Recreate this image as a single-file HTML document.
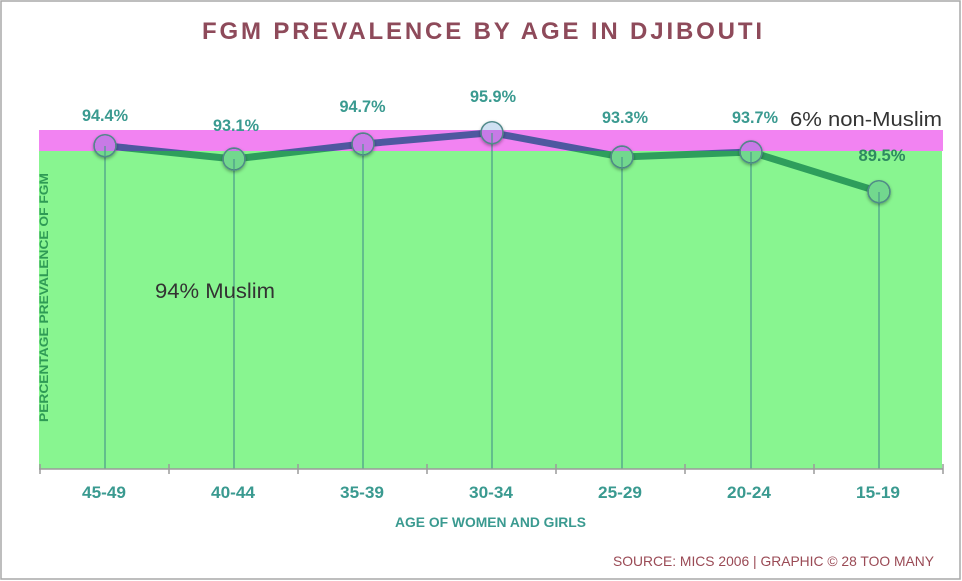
<!DOCTYPE html>
<html><head><meta charset="utf-8"><style>
html,body{margin:0;padding:0;background:#fff;}
svg{display:block;}
</style></head><body>
<svg width="962" height="581" viewBox="0 0 962 581" xmlns="http://www.w3.org/2000/svg">
<defs>
<clipPath id="above"><rect x="0" y="0" width="962" height="151"/></clipPath>
<clipPath id="below"><rect x="0" y="151" width="962" height="430"/></clipPath>
<clipPath id="ctop"><rect x="0" y="0" width="962" height="130"/></clipPath>
<clipPath id="cpink"><rect x="0" y="130" width="962" height="21"/></clipPath>
<clipPath id="cgreen"><rect x="0" y="151" width="962" height="430"/></clipPath>
<filter id="sh" x="-50%" y="-50%" width="200%" height="200%">
<feDropShadow dx="0" dy="1.5" stdDeviation="1.5" flood-color="#000" flood-opacity="0.35"/>
</filter>
<g id="m">
<circle r="11"/>
</g>
</defs>
<rect x="0" y="0" width="962" height="581" fill="#fff"/>
<rect x="1" y="1" width="959" height="578" fill="none" stroke="#a8a8a8" stroke-width="1.5"/>

<text x="482" y="39" text-anchor="middle" font-family="Liberation Sans, sans-serif" font-weight="bold" font-size="24" fill="#8e4a5a" textLength="560" lengthAdjust="spacing">FGM PREVALENCE BY AGE IN DJIBOUTI</text>

<!-- bands -->
<rect x="39" y="130" width="904" height="21" fill="#f283f2"/>
<rect x="39" y="151" width="903" height="318" fill="#88f590"/>

<!-- drop lines -->
<g stroke="#4a9a8a" stroke-width="1.2">
<line x1="105" y1="146" x2="105" y2="469"/>
<line x1="234" y1="159" x2="234" y2="469"/>
<line x1="363" y1="144" x2="363" y2="469"/>
<line x1="492" y1="133" x2="492" y2="469"/>
<line x1="622" y1="157" x2="622" y2="469"/>
<line x1="751" y1="152" x2="751" y2="469"/>
<line x1="879" y1="192" x2="879" y2="469"/>
</g>

<!-- axis -->
<line x1="39" y1="469" x2="943" y2="469" stroke="#9a9a9a" stroke-width="1.5"/>
<g stroke="#9a9a9a" stroke-width="1.5">
<line x1="40" y1="464" x2="40" y2="474"/>
<line x1="169" y1="464" x2="169" y2="474"/>
<line x1="298" y1="464" x2="298" y2="474"/>
<line x1="427" y1="464" x2="427" y2="474"/>
<line x1="556" y1="464" x2="556" y2="474"/>
<line x1="685" y1="464" x2="685" y2="474"/>
<line x1="814" y1="464" x2="814" y2="474"/>
<line x1="943" y1="464" x2="943" y2="474"/>
</g>

<!-- series line -->
<g fill="none" stroke-width="7" stroke-linejoin="round">
<polyline clip-path="url(#above)" stroke="#4e58a0" points="105,145.7 234,159 363,144 492,132.7 622,157 751,152 879,191.7"/>
<polyline clip-path="url(#below)" stroke="#2e9e5c" points="105,145.7 234,159 363,144 492,132.7 622,157 751,152 879,191.7"/>
</g>

<!-- markers: shadow + outline -->
<g fill="#000" stroke="#4f8a8a" stroke-width="1.5" filter="url(#sh)">
<circle cx="105" cy="145.7" r="11"/>
<circle cx="234" cy="159" r="11"/>
<circle cx="363" cy="144" r="11"/>
<circle cx="492" cy="132.7" r="11"/>
<circle cx="622" cy="157" r="11"/>
<circle cx="751" cy="152" r="11"/>
<circle cx="879" cy="191.7" r="11"/>
</g>
<g fill="#cfe0f2" clip-path="url(#ctop)">
<circle cx="105" cy="145.7" r="10.3"/>
<circle cx="234" cy="159" r="10.3"/>
<circle cx="363" cy="144" r="10.3"/>
<circle cx="492" cy="132.7" r="10.3"/>
<circle cx="622" cy="157" r="10.3"/>
<circle cx="751" cy="152" r="10.3"/>
<circle cx="879" cy="191.7" r="10.3"/>
</g>
<g fill="#c77ae6" clip-path="url(#cpink)">
<circle cx="105" cy="145.7" r="10.3"/>
<circle cx="234" cy="159" r="10.3"/>
<circle cx="363" cy="144" r="10.3"/>
<circle cx="492" cy="132.7" r="10.3"/>
<circle cx="622" cy="157" r="10.3"/>
<circle cx="751" cy="152" r="10.3"/>
<circle cx="879" cy="191.7" r="10.3"/>
</g>
<g fill="#72d88e" clip-path="url(#cgreen)">
<circle cx="105" cy="145.7" r="10.3"/>
<circle cx="234" cy="159" r="10.3"/>
<circle cx="363" cy="144" r="10.3"/>
<circle cx="492" cy="132.7" r="10.3"/>
<circle cx="622" cy="157" r="10.3"/>
<circle cx="751" cy="152" r="10.3"/>
<circle cx="879" cy="191.7" r="10.3"/>
</g>
<g stroke="#4a9a8a" stroke-width="1.2">
<line x1="105" y1="146" x2="105" y2="157"/>
<line x1="234" y1="159" x2="234" y2="170"/>
<line x1="363" y1="144" x2="363" y2="155"/>
<line x1="492" y1="133" x2="492" y2="144"/>
<line x1="622" y1="157" x2="622" y2="168"/>
<line x1="751" y1="152" x2="751" y2="163"/>
<line x1="879" y1="192" x2="879" y2="203"/>
</g>

<!-- data labels -->
<g font-family="Liberation Sans, sans-serif" font-weight="bold" font-size="17" fill="#3a9a90" text-anchor="middle">
<text x="105" y="121" textLength="46" lengthAdjust="spacingAndGlyphs">94.4%</text>
<text x="236" y="131" textLength="46" lengthAdjust="spacingAndGlyphs">93.1%</text>
<text x="362.5" y="112" textLength="46" lengthAdjust="spacingAndGlyphs">94.7%</text>
<text x="493" y="102" textLength="46" lengthAdjust="spacingAndGlyphs">95.9%</text>
<text x="625" y="123" textLength="46" lengthAdjust="spacingAndGlyphs">93.3%</text>
<text x="755" y="123" textLength="46" lengthAdjust="spacingAndGlyphs">93.7%</text>
<text x="882" y="161" fill="#2e8a60" textLength="47" lengthAdjust="spacingAndGlyphs">89.5%</text>
</g>

<text x="790" y="126" font-family="Liberation Sans, sans-serif" font-size="20.5" fill="#333" textLength="152" lengthAdjust="spacingAndGlyphs">6% non-Muslim</text>
<text x="155" y="298" font-family="Liberation Sans, sans-serif" font-size="21" fill="#333" textLength="120" lengthAdjust="spacingAndGlyphs">94% Muslim</text>

<!-- y axis title -->
<text transform="translate(48,297.5) rotate(-90)" text-anchor="middle" font-family="Liberation Sans, sans-serif" font-weight="bold" font-size="12" fill="#2e9a55" textLength="249" lengthAdjust="spacingAndGlyphs">PERCENTAGE PREVALENCE OF FGM</text>

<!-- x labels -->
<g font-family="Liberation Sans, sans-serif" font-weight="bold" font-size="17" fill="#3a9a90" text-anchor="middle">
<text x="104" y="498" textLength="44" lengthAdjust="spacingAndGlyphs">45-49</text>
<text x="233" y="498" textLength="44" lengthAdjust="spacingAndGlyphs">40-44</text>
<text x="362" y="498" textLength="44" lengthAdjust="spacingAndGlyphs">35-39</text>
<text x="491" y="498" textLength="44" lengthAdjust="spacingAndGlyphs">30-34</text>
<text x="620" y="498" textLength="44" lengthAdjust="spacingAndGlyphs">25-29</text>
<text x="749" y="498" textLength="44" lengthAdjust="spacingAndGlyphs">20-24</text>
<text x="878" y="498" textLength="44" lengthAdjust="spacingAndGlyphs">15-19</text>
</g>
<text x="490.5" y="527" text-anchor="middle" font-family="Liberation Sans, sans-serif" font-weight="bold" font-size="14" fill="#3a9a90" textLength="191" lengthAdjust="spacingAndGlyphs">AGE OF WOMEN AND GIRLS</text>

<text x="613" y="566" font-family="Liberation Sans, sans-serif" font-size="14" fill="#9a4a55" textLength="321" lengthAdjust="spacingAndGlyphs">SOURCE: MICS 2006 | GRAPHIC © 28 TOO MANY</text>
</svg>
</body></html>
